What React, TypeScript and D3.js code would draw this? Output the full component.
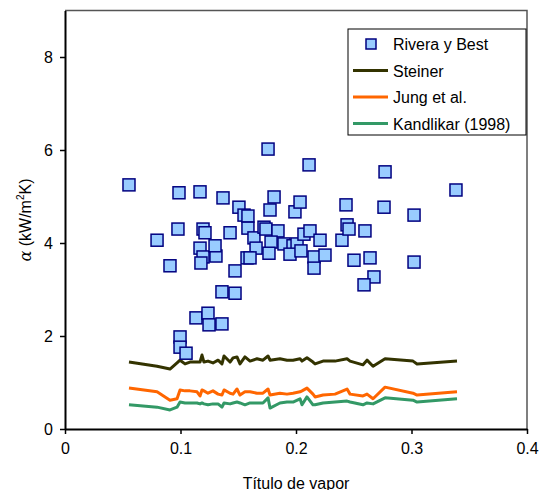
import * as d3 from "d3";
import { useEffect, useRef } from "react";

// Datos experimentales (Rivera y Best)
const puntosX = [
  0.0554, 0.0797, 0.0909, 0.0978, 0.0987, 0.1169, 0.1169, 0.1195, 0.1177, 0.1195,
  0.1212, 0.1307, 0.1299, 0.1368, 0.1429, 0.1472, 0.1359, 0.1472, 0.1134, 0.1238,
  0.1247, 0.1359, 0.0996, 0.0996, 0.1048, 0.1506, 0.155, 0.1584, 0.1584, 0.1636,
  0.1654, 0.1723, 0.174, 0.1758, 0.181, 0.1775, 0.1844, 0.1784, 0.1766, 0.1896,
  0.1974, 0.2009, 0.1948, 0.2043, 0.1991, 0.2035, 0.2069, 0.2121, 0.2113, 0.2156,
  0.2156, 0.2208, 0.2251, 0.2398, 0.2433, 0.2442, 0.2459, 0.2597, 0.2502, 0.2641,
  0.2675, 0.2589, 0.2762, 0.2771, 0.3022, 0.3022, 0.3385, 0.1576, 0.1602,
];
const puntosY = [
  5.25, 4.06, 3.51, 4.3, 5.08, 5.1, 3.89, 3.7, 3.57, 4.3,
  4.22, 3.72, 3.94, 4.97, 4.22, 3.4, 2.95, 2.92, 2.39, 2.49,
  2.24, 2.26, 1.98, 1.76, 1.63, 4.77, 4.6, 4.58, 4.32, 4.11,
  3.89, 4.34, 4.3, 6.02, 4.99, 4.71, 4.26, 4.02, 3.78, 3.98,
  3.94, 3.98, 3.76, 3.83, 4.67, 4.88, 4.19, 4.26, 5.68, 3.7,
  3.46, 4.06, 3.74, 4.06, 4.82, 4.39, 4.3, 4.26, 3.63, 3.68,
  3.27, 3.1, 4.77, 5.53, 4.6, 3.59, 5.14, 3.68, 3.68,
];

// Correlaciones (mismo título de vapor para las tres)
const lineaX = [
  0.0554, 0.0797, 0.0909, 0.097, 0.0996, 0.1039, 0.1082, 0.1143, 0.1169, 0.1186,
  0.1203, 0.1238, 0.1281, 0.1325, 0.1359, 0.1377, 0.1429, 0.1455, 0.1489, 0.1515,
  0.1558, 0.1602, 0.1662, 0.1714, 0.1758, 0.1775, 0.1861, 0.1922, 0.1974, 0.2035,
  0.2052, 0.2095, 0.2147, 0.2165, 0.2234, 0.2338, 0.2442, 0.2468, 0.258, 0.2615,
  0.2667, 0.2771, 0.3013, 0.3048, 0.3394,
];
const steiner = [
  1.44, 1.35, 1.29, 1.42, 1.48, 1.4, 1.44, 1.44, 1.44, 1.59,
  1.44, 1.46, 1.42, 1.48, 1.4, 1.57, 1.44, 1.53, 1.55, 1.4,
  1.55, 1.46, 1.51, 1.48, 1.57, 1.48, 1.51, 1.48, 1.48, 1.51,
  1.46, 1.53, 1.44, 1.4, 1.46, 1.46, 1.51, 1.46, 1.38, 1.48,
  1.35, 1.51, 1.46, 1.4, 1.46,
];
const jung = [
  0.88, 0.8, 0.62, 0.65, 0.84, 0.82, 0.82, 0.8, 0.71, 0.84,
  0.82, 0.77, 0.82, 0.75, 0.73, 0.84, 0.77, 0.75, 0.86, 0.73,
  0.8, 0.8, 0.77, 0.77, 0.86, 0.73, 0.77, 0.75, 0.77, 0.8,
  0.82, 0.88, 0.75, 0.69, 0.73, 0.75, 0.86, 0.75, 0.71, 0.75,
  0.65, 0.9, 0.77, 0.73, 0.8,
];
const kandlikar = [
  0.52, 0.47, 0.41, 0.47, 0.58, 0.56, 0.56, 0.56, 0.54, 0.56,
  0.54, 0.52, 0.54, 0.54, 0.47, 0.56, 0.54, 0.56, 0.58, 0.56,
  0.52, 0.56, 0.56, 0.56, 0.67, 0.45, 0.56, 0.58, 0.58, 0.65,
  0.52, 0.69, 0.52, 0.52, 0.56, 0.58, 0.6, 0.58, 0.52, 0.56,
  0.54, 0.67, 0.62, 0.58, 0.65,
];

const ticksX = [0, 0.1, 0.2, 0.3, 0.4];
const ticksY = [0, 2, 4, 6, 8];

const series = [
  { name: "Steiner", values: steiner, color: "#333300" },
  { name: "Jung et al.", values: jung, color: "#FF6600" },
  { name: "Kandlikar (1998)", values: kandlikar, color: "#339966" },
];

const FONT = "'Liberation Sans', Arial, sans-serif";

const ChartDraw = () => {
  const chartRef = useRef<SVGSVGElement | null>(null);

  useEffect(() => {
    const svg = d3.select(chartRef.current);
    svg.selectAll("*").remove();

    const width = 539;
    const height = 490;
    const margin = { top: 10.5, right: 12, bottom: 61, left: 65 };

    const x = d3.scaleLinear().domain([0, 0.4]).range([margin.left, width - margin.right]);
    const y = d3.scaleLinear().domain([0, 9]).range([height - margin.bottom, margin.top]);

    svg.attr("width", width).attr("height", height).style("font-family", FONT);

    // marco superior y derecho
    svg.append("path")
      .attr("d", `M${x(0)},${y(9)}H${x(0.4)}V${y(0)}`)
      .attr("fill", "none")
      .attr("stroke", "#555")
      .attr("stroke-width", 1.5);

    // lineas de correlaciones
    const line = d3.line<number>()
      .x((_, i) => x(lineaX[i]))
      .y((d) => y(d));

    series.forEach((s) => {
      svg.append("path")
        .datum(s.values)
        .attr("d", line)
        .attr("fill", "none")
        .attr("stroke", s.color)
        .attr("stroke-width", 3)
        .attr("stroke-linejoin", "round");
    });

    // puntos experimentales
    const sz = 12;
    svg.append("g")
      .selectAll("rect")
      .data(puntosX.map((px, i) => [px, puntosY[i]]))
      .enter()
      .append("rect")
      .attr("x", (d) => x(d[0]) - sz / 2)
      .attr("y", (d) => y(d[1]) - sz / 2)
      .attr("width", sz)
      .attr("height", sz)
      .attr("fill", "#99CCFF")
      .attr("stroke", "#000080")
      .attr("stroke-width", 1.5);

    // Eje X
    const gx = svg.append("g")
      .attr("transform", `translate(0,${y(0)})`)
      .call(d3.axisBottom(x).tickValues(ticksX).tickSize(5).tickSizeOuter(0).tickFormat((d) => String(d)));
    gx.select(".domain").attr("stroke", "#000").attr("stroke-width", 2);
    gx.selectAll(".tick line").attr("stroke", "#000").attr("stroke-width", 1.5);
    gx.selectAll("text").attr("font-size", 16).attr("font-family", FONT).attr("fill", "#000").attr("dy", "1.05em");

    // Eje Y
    const gy = svg.append("g")
      .attr("transform", `translate(${x(0)},0)`)
      .call(d3.axisLeft(y).tickValues(ticksY).tickSize(5).tickSizeOuter(0).tickFormat((d) => String(d)));
    gy.select(".domain").attr("stroke", "#000").attr("stroke-width", 2);
    gy.selectAll(".tick line").attr("stroke", "#000").attr("stroke-width", 1.5);
    gy.selectAll("text").attr("font-size", 16).attr("font-family", FONT).attr("fill", "#000").attr("x", -12);

    // Titulos de ejes
    svg.append("text")
      .attr("x", (x(0) + x(0.4)) / 2)
      .attr("y", 489)
      .attr("text-anchor", "middle")
      .attr("font-size", 16)
      .text("Título de vapor");

    const yl = svg.append("text")
      .attr("transform", `translate(31,220) rotate(-90)`)
      .attr("text-anchor", "middle")
      .attr("font-size", 16);
    yl.append("tspan").attr("font-family", "'DejaVu Serif', serif").attr("font-style", "italic").text("α");
    yl.append("tspan").text(" (kW/m");
    yl.append("tspan").attr("font-size", 10).attr("dy", -7).text("2");
    yl.append("tspan").attr("dy", 7).text("K)");

    // Leyenda
    const lg = svg.append("g");
    lg.append("rect")
      .attr("x", 348).attr("y", 29).attr("width", 178).attr("height", 106)
      .attr("fill", "#fff").attr("stroke", "#000").attr("stroke-width", 1);
    const ly0 = 44;
    const dy = 26.5;
    lg.append("rect")
      .attr("x", 371 - 5).attr("y", ly0 - 5).attr("width", 10).attr("height", 10)
      .attr("fill", "#99CCFF").attr("stroke", "#000080").attr("stroke-width", 1.5);
    lg.append("text").attr("x", 393).attr("y", ly0 + 6).attr("font-size", 16).text("Rivera y Best");
    series.forEach((s, i) => {
      const yy = ly0 + dy * (i + 1);
      lg.append("line")
        .attr("x1", 353).attr("x2", 388).attr("y1", yy).attr("y2", yy)
        .attr("stroke", s.color).attr("stroke-width", 3);
      lg.append("text").attr("x", 393).attr("y", yy + 6).attr("font-size", 16).text(s.name);
    });
  }, []);

  return <svg ref={chartRef} width="539" height="490" style={{ position: "absolute", left: 0, top: 0 }}></svg>;
};

export default function App() {
  return <ChartDraw />;
}
